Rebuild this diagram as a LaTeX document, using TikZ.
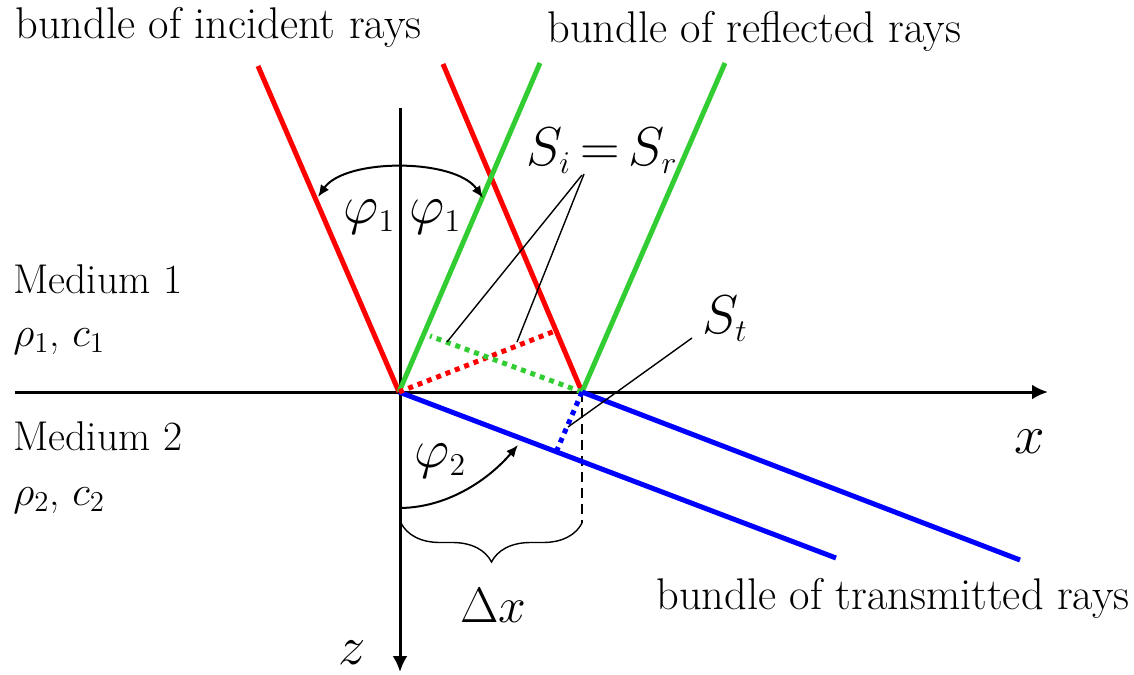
\documentclass[tikz,border=0pt]{standalone}
\usepackage{fontspec}
\usetikzlibrary{arrows.meta,decorations.pathreplacing}
\DeclareMathSizes{26}{26}{15}{11}
\definecolor{rayred}{RGB}{255,0,0}
\definecolor{raygreen}{RGB}{50,205,50}
\definecolor{rayblue}{RGB}{0,0,255}
\newcommand\lbfont{\fontsize{22.2}{26}\selectfont}
\newcommand\mdfont{\fontsize{20.8}{24}\selectfont}
\newcommand\mthfont{\fontsize{26}{30}\selectfont}
\newcommand\lgmath[1]{\scalebox{1.1}{$#1$}}
\tikzset{
  lbl/.style={inner sep=0pt, anchor=base west},
  ray/.style={line width=2.5pt},
  wave/.style={line width=2.5pt, dash pattern=on 2.5pt off 2.5pt},
  axis/.style={line width=1.5pt, -{Latex[length=8pt,width=7.5pt]}},
  leader/.style={line width=0.7pt},
  angarr/.style={line width=1pt},
}
\begin{document}
\begin{tikzpicture}[x=0.5pt,y=-0.5pt]
\useasboundingbox (0,0) rectangle (1134,674);
% coordinates
\coordinate (O) at (399,392);
\coordinate (A) at (582,392);
\coordinate (xs) at (15,392); \coordinate (xe) at (1048,392);
\coordinate (zs) at (400,108); \coordinate (ze) at (400,672);
\coordinate (r1) at (258,66); \coordinate (r2) at (443,64);
\coordinate (g1) at (540,63); \coordinate (g2) at (725,63);
\coordinate (b1) at (836,558); \coordinate (b2) at (1020,560);
\coordinate (rd) at (555,331); \coordinate (gd) at (430,336); \coordinate (bd) at (557,450);
\coordinate (ph1l) at (318,197); \coordinate (ph1r) at (483,198);
\coordinate (ph2s) at (401,508); \coordinate (ph2e) at (518,445);
\coordinate (bl) at (401,523); \coordinate (br) at (582,523);
\coordinate (siTop) at (582,175); \coordinate (siTopB) at (584,174);
\coordinate (siA) at (447,342); \coordinate (siB) at (517,342);
\coordinate (stTop) at (692,338); \coordinate (stA) at (568,427);

% axes
\draw[axis] (xs) -- (xe);
\draw[axis] (zs) -- (ze);

% dashed and brace
\draw[line width=0.7pt, dash pattern=on 5pt off 3pt] (A) -- (br);
\draw[line width=0.7pt, decorate, decoration={brace, amplitude=19.5pt}] (br) -- (bl);

% rays
\draw[ray, rayred] (r1) -- (O);
\draw[ray, rayred] (r2) -- (A);
\draw[ray, raygreen] (O) -- (g1);
\draw[ray, raygreen] (A) -- (g2);
\draw[ray, rayblue] (O) -- (b1);
\draw[ray, rayblue] (A) -- (b2);

% wavefronts
\draw[wave, rayred] (O) -- (rd);
\draw[wave, raygreen] (A) -- (gd);
\draw[wave, rayblue] (A) -- (bd);

% angle arcs
\draw[angarr, {Latex[length=6pt,width=5pt]}-{Latex[length=6pt,width=5pt]}]
  (ph1l) .. controls (345,158) and (455,158) .. (ph1r);
\draw[angarr, -{Latex[length=6pt,width=5pt]}]
  (ph2s) .. controls (450,507) and (490,478) .. (ph2e);

% leaders
\draw[leader] (siTop) -- (siA);
\draw[leader] (siTopB) -- (siB);
\draw[leader] (stTop) -- (stA);

% labels
\node[lbl, font=\lbfont] (tinc) at (15,39) {bundle of incident rays};
\node[lbl, font=\lbfont] (tref) at (547,43) {bundle of reflected rays};
\node[lbl, font=\lbfont] (ttra) at (656,609) {bundle of transmitted rays};
\node[lbl, font=\mdfont] (m1) at (13,293) {Medium 1};
\node[lbl, font=\mdfont] (p1) at (13,346) {$\rho_1$, $c_1$};
\node[lbl, font=\mdfont] (m2) at (13,450) {Medium 2};
\node[lbl, font=\mdfont] (p2) at (13,505) {$\rho_2$, $c_2$};
\node[lbl, font=\mthfont] (phl) at (343,223) {\lgmath{\varphi_1}};
\node[lbl, font=\mthfont] (phr) at (409,223) {\lgmath{\varphi_1}};
\node[lbl, font=\mthfont] (ph2) at (414,467) {\lgmath{\varphi_2}};
\node[lbl, font=\mthfont] (sisr) at (526,165) {\lgmath{S_i\mskip3mu{=}\mskip3mu S_r}};
\node[lbl, font=\mthfont] (st) at (702,333) {\lgmath{S_t}};
\node[lbl, font=\mthfont] (dx) at (460,622) {$\Delta x$};
\node[lbl, font=\mthfont] (xl) at (1014,453) {\lgmath{x}};
\node[lbl, font=\mthfont] (zl) at (338,664) {\lgmath{z}};
\end{tikzpicture}
\end{document}
